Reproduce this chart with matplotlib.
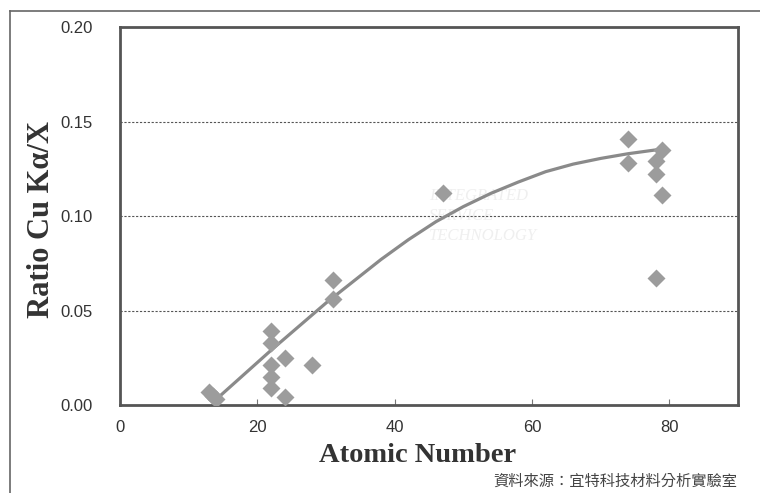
import numpy as np
import matplotlib.pyplot as plt
from matplotlib.lines import Line2D
from matplotlib.ticker import FormatStrFormatter

# measured points (atomic number, Cu Ka / X ratio)
atomic_number = [13, 13.5, 14, 22, 22, 22, 22, 22, 24, 24, 28, 31, 31,
                 47, 74, 74, 78, 78, 78, 79, 79]
ratio = [0.007, 0.005, 0.003, 0.039, 0.033, 0.021, 0.015, 0.009, 0.025, 0.004,
         0.021, 0.066, 0.056, 0.112, 0.141, 0.128, 0.129, 0.122, 0.067,
         0.135, 0.111]

# trend line
trend_z = [14, 18, 22, 26, 30, 34, 38, 42, 46, 50, 54, 58, 62, 66, 70, 74, 79]
trend_y = [0.003, 0.016, 0.029, 0.0415, 0.054, 0.0655, 0.077, 0.0875, 0.097,
           0.105, 0.112, 0.118, 0.1235, 0.1275, 0.1305, 0.133, 0.1355]

x_ticks = [0, 20, 40, 60, 80]
y_ticks = [0.00, 0.05, 0.10, 0.15, 0.20]

fig = plt.figure(figsize=(7.6, 4.93), dpi=100)
ax = fig.add_axes([0.158, 0.1785, 0.813, 0.7665])

# faint watermark
ax.text(0.5, 0.5, "INTEGRATED\nSERVICE\nTECHNOLOGY", transform=ax.transAxes,
        fontsize=12, style="italic", color="#efefef", family="Liberation Serif",
        ha="left", va="center", linespacing=1.3, zorder=0)

for y in y_ticks[1:-1]:
    ax.axhline(y, color="#555555", lw=0.8, ls=(0, (2, 1.5)), zorder=1)

ax.plot(trend_z, trend_y, color="#8a8a8a", lw=2.3, solid_capstyle="round",
        solid_joinstyle="round", zorder=2)
ax.plot(atomic_number, ratio, "D", color="#9c9c9c", ms=9.5, mec="none", zorder=3)

ax.set_xlim(0, 90)
ax.set_ylim(0, 0.20)
ax.set_xticks(x_ticks)
ax.set_yticks(y_ticks)
ax.yaxis.set_major_formatter(FormatStrFormatter("%.2f"))
ax.tick_params(axis="x", direction="in", length=4, width=0.8, color="#777777",
               pad=11, labelsize=12, labelcolor="#333333")
ax.tick_params(axis="y", length=0, pad=20, labelsize=12, labelcolor="#333333")
for lab in ax.get_xticklabels() + ax.get_yticklabels():
    lab.set_family("Liberation Sans")

for s in ax.spines.values():
    s.set_color("#555555")
    s.set_linewidth(2)

ax.set_xlabel("Atomic Number", family="Liberation Serif", fontweight="bold",
              fontsize=20.5, color="#333333")
ax.xaxis.set_label_coords(0.482, -0.1)
ax.set_ylabel("Ratio Cu Kα/X", family="Liberation Serif", fontweight="bold",
              fontsize=22, color="#333333")
ax.yaxis.set_label_coords(-0.104, 0.49)

fig.text(0.97, 0.006, "資料來源：宜特科技材料分析實驗室",
         family=["Noto Sans CJK TC", "DejaVu Sans"], fontsize=11,
         color="#444444", ha="right", va="bottom")

# scan frame lines
fig.add_artist(Line2D([0.013, 1.0], [0.978, 0.978], color="#666666", lw=1.2,
                      transform=fig.transFigure))
fig.add_artist(Line2D([0.013, 0.013], [0.0, 0.978], color="#666666", lw=1.2,
                      transform=fig.transFigure))

fig.savefig("out.png", dpi=100)
